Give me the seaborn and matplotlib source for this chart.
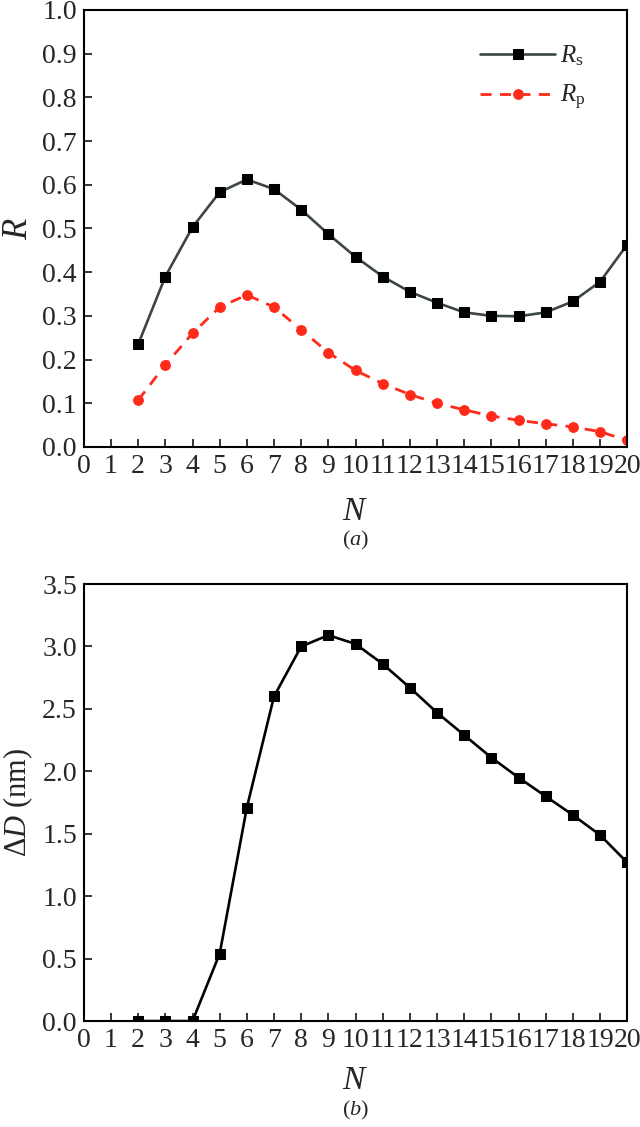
import numpy as np
import pandas as pd
import matplotlib
matplotlib.use('Agg')
import matplotlib.pyplot as plt
import seaborn as sns

# data
n_values = list(range(2, 21))
r_s = [0.235, 0.390, 0.503, 0.583, 0.612, 0.590, 0.543, 0.487, 0.435, 0.390,
       0.355, 0.330, 0.308, 0.300, 0.299, 0.308, 0.333, 0.378, 0.463]
r_p = [0.107, 0.188, 0.260, 0.320, 0.348, 0.320, 0.268, 0.216, 0.175, 0.145,
       0.120, 0.100, 0.085, 0.071, 0.061, 0.053, 0.046, 0.035, 0.015]
delta_d = [0.0, 0.0, 0.0, 0.54, 1.71, 2.60, 3.00, 3.09, 3.02, 2.86,
           2.67, 2.47, 2.29, 2.11, 1.95, 1.80, 1.65, 1.49, 1.27]
x_ticks = list(range(0, 21))

sns.set_style('ticks')
plt.rcParams['font.family'] = ['Liberation Serif', 'DejaVu Serif']
plt.rcParams['mathtext.fontset'] = 'custom'
plt.rcParams['mathtext.rm'] = 'Liberation Serif'
plt.rcParams['mathtext.it'] = 'Liberation Serif:italic'
plt.rcParams['xtick.direction'] = 'in'
plt.rcParams['ytick.direction'] = 'in'

df_r = pd.DataFrame({'N': n_values, 'Rs': r_s, 'Rp': r_p})
df_d = pd.DataFrame({'N': n_values, 'dD': delta_d})

fig = plt.figure(figsize=(6.4, 11.27), dpi=100)
ax1 = fig.add_axes([0.131, 0.6034, 0.849, 0.3878])
ax2 = fig.add_axes([0.131, 0.094, 0.849, 0.3878])

sns.lineplot(data=df_r, x='N', y='Rs', ax=ax1, color='#3c4646', lw=1.9,
             marker='s', markersize=6.5, markerfacecolor='black',
             markeredgecolor='black', label=r'$R_\mathrm{s}$')
sns.lineplot(data=df_r, x='N', y='Rp', ax=ax1, color='#ff2a1a', lw=2.0,
             linestyle=(0, (4, 3)), marker='o', markersize=7,
             markerfacecolor='#ff2a1a', markeredgecolor='#ff2a1a',
             label=r'$R_\mathrm{p}$')
sns.lineplot(data=df_d, x='N', y='dD', ax=ax2, color='black', lw=1.9,
             marker='s', markersize=6.5, markerfacecolor='black',
             markeredgecolor='black')

for ax in (ax1, ax2):
    ax.set_xlim(0, 20)
    ax.set_xticks(x_ticks)
    ax.set_xticklabels([str(t) for t in x_ticks])
    ax.tick_params(labelsize=20, length=6, width=1.3, pad=5,
                   top=False, right=False)
    for sp in ax.spines.values():
        sp.set_visible(True)
        sp.set_linewidth(1.5)
        sp.set_color('black')
    ax.set_xlabel('')

ax1.set_ylim(0, 1.0)
ax1.set_yticks(np.arange(0, 1.01, 0.1))
ax1.set_yticklabels([f'{v:.1f}' for v in np.arange(0, 1.01, 0.1)])
ax1.set_ylabel(r'$R$', fontsize=25, labelpad=5)

ax2.set_ylim(0, 3.5)
ax2.set_yticks(np.arange(0, 3.51, 0.5))
ax2.set_yticklabels([f'{v:.1f}' for v in np.arange(0, 3.51, 0.5)])
ax2.set_ylabel(r'$\Delta D$ (nm)', fontsize=22, labelpad=5)

ax1.legend(loc='upper right', bbox_to_anchor=(0.965, 0.975), frameon=False,
           fontsize=18, handlelength=3.0, handletextpad=0.2,
           labelspacing=0.6)

fig.text(0.555, 0.546, r'$N$', fontsize=24, ha='center', va='center')
fig.text(0.555, 0.520, r'($a$)', fontsize=16, ha='center', va='center')
fig.text(0.555, 0.041, r'$N$', fontsize=24, ha='center', va='center')
fig.text(0.555, 0.015, r'($b$)', fontsize=16, ha='center', va='center')

fig.savefig('out.png', dpi=100)
